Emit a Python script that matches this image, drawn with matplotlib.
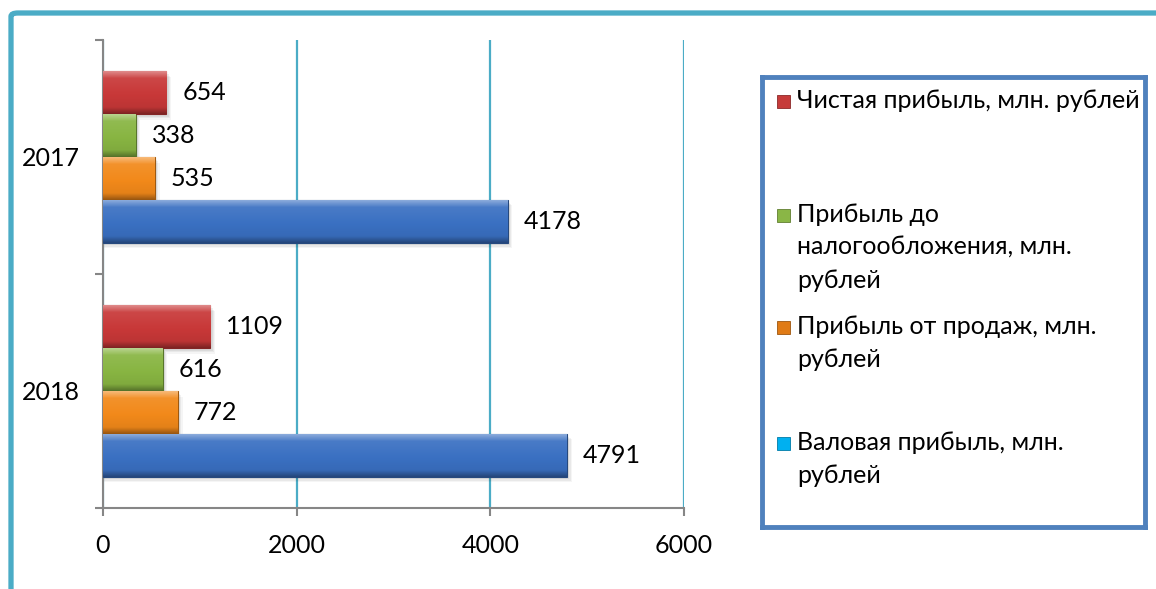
import numpy as np
import matplotlib.pyplot as plt
from matplotlib.patches import Rectangle, FancyBboxPatch
from matplotlib.colors import to_rgb

plt.rcParams['font.family'] = ['Lato', 'DejaVu Sans']

# Data: profit indicators by year, mln rubles
years = ['2018', '2017']
series_names = [
    'Валовая прибыль, млн.\nрублей',
    'Прибыль от продаж, млн.\nрублей',
    'Прибыль до\nналогообложения, млн.\nрублей',
    'Чистая прибыль, млн. рублей',
]
gross_profit = [4791, 4178]
sales_profit = [772, 535]
pretax_profit = [616, 338]
net_profit = [1109, 654]
series_values = [gross_profit, sales_profit, pretax_profit, net_profit]

bar_colors = ['#3A70C2', '#F2891A', '#88B542', '#C83838']
legend_colors = ['#00B0F0', '#E07B16', '#8AB646', '#C63B3A']
grid_color = '#4BACC6'
axis_color = '#868686'
fs = 18


def shade(c, f):
    r, g, b = to_rgb(c)
    if f >= 0:
        return (r + (1 - r) * f, g + (1 - g) * f, b + (1 - b) * f)
    return (r * (1 + f), g * (1 + f), b * (1 + f))


def bevel_image(c, n=40):
    # vertical profile: bright rim on top, flat body, dark rim at the bottom
    t = np.linspace(0, 1, n)
    rows = []
    for v in t:
        if v < 0.14:
            rows.append(shade(c, 0.4 - v * 2.0))
        elif v > 0.86:
            rows.append(shade(c, -0.28 * (v - 0.86) / 0.14 - 0.08))
        else:
            rows.append(shade(c, 0.08 - 0.14 * (v - 0.14) / 0.72))
    return np.array(rows).reshape(n, 1, 3)


fig = plt.figure(figsize=(11.56, 5.89), dpi=100)

# outer rounded frame, runs past the right and bottom edges
frame = FancyBboxPatch((11 / 1156, -0.1), 1.2, 1 - 13 / 589 + 0.1,
                       boxstyle='round,pad=0,rounding_size=0.006',
                       transform=fig.transFigure, fill=False,
                       edgecolor=grid_color, linewidth=3.8)
fig.patches.append(frame)

ax = fig.add_axes([103 / 1156, 1 - 508 / 589, 581 / 1156, 468 / 589])

bar_h = 0.183
offsets = np.array([-1.5, -0.5, 0.5, 1.5]) * bar_h
y = np.arange(len(years))

for vals, col, off in zip(series_values, bar_colors, offsets):
    bars = ax.barh(y + off, vals, height=bar_h, color=col,
                   edgecolor=shade(col, -0.35), linewidth=0.8, zorder=3)
    for b, v in zip(bars, vals):
        x0, y0 = b.get_x(), b.get_y()
        # soft drop shadow
        for k, a in enumerate([0.06, 0.05, 0.04]):
            ax.add_patch(Rectangle((x0, y0 - 0.012 - 0.006 * k), v + 25 + 12 * k, bar_h,
                                   facecolor='black', alpha=a, linewidth=0, zorder=2))
        im = ax.imshow(bevel_image(col), extent=(x0, x0 + v, y0, y0 + bar_h),
                       aspect='auto', zorder=3.5, interpolation='bilinear', origin='upper')
        im.set_clip_path(b)
        ax.annotate(f'{v}', (v, b.get_y() + bar_h / 2), xytext=(16, 0),
                    textcoords='offset pixels', va='center', ha='left',
                    fontsize=fs, zorder=5)

ax.set_xlim(0, 6000)
ax.set_ylim(-0.5, len(years) - 0.5)
ax.set_xticks([0, 2000, 4000, 6000])
ax.xaxis.grid(True, color=grid_color, linewidth=1.6, zorder=1)
ax.set_axisbelow(True)

ax.set_yticks(np.arange(-0.5, len(years), 1.0))
ax.set_yticklabels([])
ax.set_yticks(y, minor=True)
ax.set_yticklabels(years, minor=True, fontsize=fs)
ax.tick_params(axis='y', which='minor', length=0, pad=17)
ax.tick_params(axis='y', which='major', length=6, color=axis_color, width=1.5)
ax.tick_params(axis='x', length=6, color=axis_color, width=1.5, labelsize=fs, pad=13)

for side in ['top', 'right']:
    ax.spines[side].set_visible(False)
for side in ['left', 'bottom']:
    ax.spines[side].set_color(axis_color)
    ax.spines[side].set_linewidth(1.5)

# legend panel
lax = fig.add_axes([762 / 1156, 1 - 527 / 589, 383 / 1156, 450 / 589])
lax.set_xlim(762, 1145)
lax.set_ylim(527, 77)
lax.set_xticks([])
lax.set_yticks([])
for s in lax.spines.values():
    s.set_color('#4F81BD')
    s.set_linewidth(3.5)

entry_y = [443, 327, 215, 101]
line_step = 32.5
for name, col, ey in zip(series_names, legend_colors, entry_y):
    lax.add_patch(Rectangle((777, ey - 6.5), 13, 13, facecolor=col,
                            edgecolor=shade(col, -0.3), linewidth=0.6))
    for i, line in enumerate(name.split('\n')):
        lax.text(797, ey + i * line_step, line, fontsize=fs, va='center', ha='left')

fig.savefig('out.png', dpi=100)
